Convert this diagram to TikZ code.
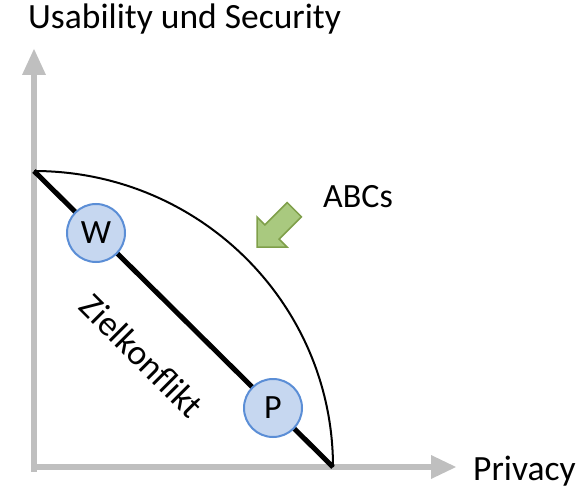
\documentclass[tikz,border=0pt]{standalone}
\usepackage{fontspec}
\setmainfont{Carlito}
\begin{document}
\begin{tikzpicture}[x=1pt,y=-1pt,
  axisline/.style={draw=axisgray,line width=6pt},
  marker/.style={circle,draw=markerblue,fill=markerfill,line width=2pt,
    minimum size=58pt,inner sep=0pt,font=\fontsize{34}{40}\selectfont},
  label/.style={inner sep=0pt,font=\fontsize{35.5}{42}\selectfont}]
\definecolor{axisgray}{HTML}{BFBFBF}
\definecolor{markerblue}{HTML}{5B8ED6}
\definecolor{markerfill}{HTML}{C6D7F0}
\definecolor{arrowfill}{HTML}{A9C97F}
\definecolor{arrowdraw}{HTML}{7F9F4A}
\useasboundingbox (0,0) rectangle (588,489);

% axes
\coordinate (origin) at (34,467);
\coordinate (ytip) at (34,49);
\coordinate (xtip) at (456,467);
\coordinate (yend) at (34,472);
\coordinate (xend) at (31,467);
\draw[axisline] (yend) -- (34,74);
\fill[axisgray] (ytip) -- (46,75) -- (22,75) -- cycle;
\draw[axisline] (xend) -- (431,467);
\fill[axisgray] (xtip) -- (431,455) -- (431,479) -- cycle;

% frontier and trade-off line
\coordinate (top) at (34,171);
\coordinate (right) at (333,467);
\draw[line width=2pt] (top) arc[start angle=90,end angle=0,x radius=299,y radius=-296];
\draw[line width=5pt] (top) -- (right);

% markers
\node[marker] (w) at (96,233) {W};
\node[marker] (p) at (273,408) {P};

% block arrow
\filldraw[fill=arrowfill,draw=arrowdraw,line width=1.5pt,line join=miter]
  (257,247) -- (257,217) -- (264.9,224.9) -- (287.2,202.6) -- (301.4,216.8)
  -- (279.1,239.1) -- (287,247) -- cycle;

% labels
\node[label,anchor=base west] (title) at (28,29) {Usability und Security};
\node[label,anchor=base west,font=\fontsize{34}{40}\selectfont] (abcs) at (323,207) {ABCs};
\node[label,anchor=base west] (privacy) at (473,480) {Privacy};
\node[label,rotate=-45] (ziel) at (142,356) {Zielkonflikt};
\end{tikzpicture}
\end{document}
